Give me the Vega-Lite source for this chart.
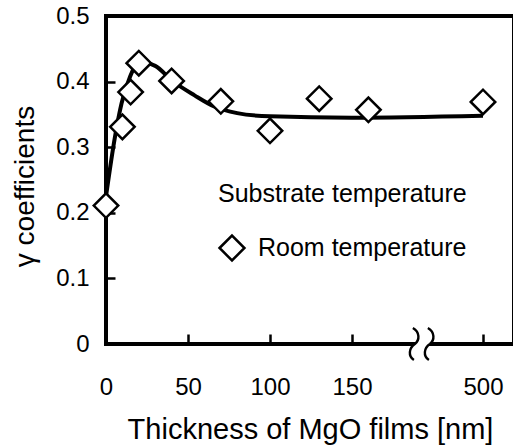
{
  "$schema": "https://vega.github.io/schema/vega-lite/v6.json",
  "width": 408,
  "height": 328,
  "autosize": {"type": "none"},
  "padding": {"left": 106, "top": 16, "right": 0, "bottom": 103},
  "background": "white",
  "config": {
    "view": {"stroke": "black", "strokeWidth": 4},
    "font": "Liberation Sans",
    "axis": {
      "domain": false,
      "grid": false,
      "tickColor": "black",
      "tickWidth": 2.5,
      "labelColor": "black",
      "titleColor": "black",
      "labelFont": "Liberation Sans",
      "titleFont": "Liberation Sans",
      "titleFontWeight": "normal",
      "labelFontSize": 24
    }
  },
  "datasets": {
    "points": [
      {"x": 0, "y": 0.211, "series": "Room temperature"},
      {"x": 10, "y": 0.331, "series": "Room temperature"},
      {"x": 15, "y": 0.384, "series": "Room temperature"},
      {"x": 20, "y": 0.428, "series": "Room temperature"},
      {"x": 40, "y": 0.401, "series": "Room temperature"},
      {"x": 70, "y": 0.370, "series": "Room temperature"},
      {"x": 100, "y": 0.325, "series": "Room temperature"},
      {"x": 130, "y": 0.374, "series": "Room temperature"},
      {"x": 160, "y": 0.357, "series": "Room temperature"},
      {"x": 500, "y": 0.369, "series": "Room temperature"}
    ],
    "curve": [
      {"x": 0, "y": 0.225},
      {"x": 5.5, "y": 0.316},
      {"x": 9.5, "y": 0.367},
      {"x": 14.6, "y": 0.407},
      {"x": 20, "y": 0.43},
      {"x": 30, "y": 0.424},
      {"x": 40, "y": 0.402},
      {"x": 54, "y": 0.379},
      {"x": 66, "y": 0.362},
      {"x": 80, "y": 0.352},
      {"x": 100, "y": 0.347},
      {"x": 150, "y": 0.345},
      {"x": 500, "y": 0.348}
    ],
    "brk": [{"x": 192, "y": 0}]
  },
  "encoding": {
    "x": {
      "field": "x",
      "type": "quantitative",
      "scale": {"domain": [0, 195, 500, 519], "range": [0, 319.8, 377, 408], "nice": false, "zero": false},
      "axis": {
        "values": [0, 50, 100, 150, 500],
        "offset": -10,
        "tickSize": 10,
        "labelPadding": 31,
        "title": "Thickness of MgO films [nm]",
        "titleFontSize": 29,
        "titleX": 204,
        "titleY": 104.5,
        "titleBaseline": "alphabetic",
        "titleAlign": "center",
        "labelFlush": false
      }
    },
    "y": {
      "field": "y",
      "type": "quantitative",
      "scale": {"domain": [0, 0.5], "nice": false, "zero": false},
      "axis": {
        "values": [0, 0.1, 0.2, 0.3, 0.4, 0.5],
        "format": "~g",
        "offset": -9,
        "tickSize": 9,
        "labelPadding": 17,
        "title": "γ  coefficients",
        "titleFontSize": 28,
        "titleAngle": -90,
        "titleX": -82,
        "titleY": 170,
        "titleBaseline": "alphabetic",
        "titleAlign": "center",
        "labelFlush": false
      }
    }
  },
  "layer": [
    {
      "data": {"name": "curve"},
      "mark": {"type": "line", "color": "black", "strokeWidth": 4, "interpolate": "monotone"}
    },
    {
      "data": {"name": "points"},
      "mark": {"type": "point", "filled": false, "color": "black", "fill": "white", "fillOpacity": 1, "strokeWidth": 2.5, "size": 600, "opacity": 1},
      "encoding": {
        "shape": {
          "field": "series",
          "type": "nominal",
          "scale": {"domain": ["Room temperature"], "range": ["diamond"]},
          "legend": {
            "orient": "none",
            "legendX": 112,
            "legendY": 166,
            "title": "Substrate temperature",
            "titleFont": "Liberation Sans",
            "titleFontSize": 25,
            "titleFontWeight": "normal",
            "titleColor": "black",
            "titleLimit": 400,
            "titlePadding": 27,
            "labelFont": "Liberation Sans",
            "labelFontSize": 25,
            "labelColor": "black",
            "labelLimit": 400,
            "labelOffset": 12,
            "symbolSize": 620,
            "symbolStrokeWidth": 2.5,
            "symbolType": "diamond",
            "padding": 0
          }
        }
      }
    },
    {
      "data": {"name": "brk"},
      "mark": {
        "type": "point",
        "shape": "M -0.5 -1 C -0.0625 -0.75 -0.0625 -0.25 -0.375 0 C -0.75 0.25 -0.8125 0.75 -0.4375 1 L 0.5 1 C 0.125 0.75 0.1875 0.25 0.5625 0 C 0.875 -0.25 0.875 -0.75 0.4375 -1 Z",
        "filled": true,
        "fill": "white",
        "strokeWidth": 0,
        "size": 1024,
        "opacity": 1
      }
    },
    {
      "data": {"name": "brk"},
      "mark": {
        "type": "point",
        "shape": "M -0.5 -1 C -0.0625 -0.75 -0.0625 -0.25 -0.375 0 C -0.75 0.25 -0.8125 0.75 -0.4375 1 M 0.4375 -1 C 0.875 -0.75 0.875 -0.25 0.5625 0 C 0.1875 0.25 0.125 0.75 0.5 1",
        "filled": false,
        "stroke": "black",
        "strokeWidth": 2.4,
        "size": 1024,
        "opacity": 1
      }
    }
  ]
}
